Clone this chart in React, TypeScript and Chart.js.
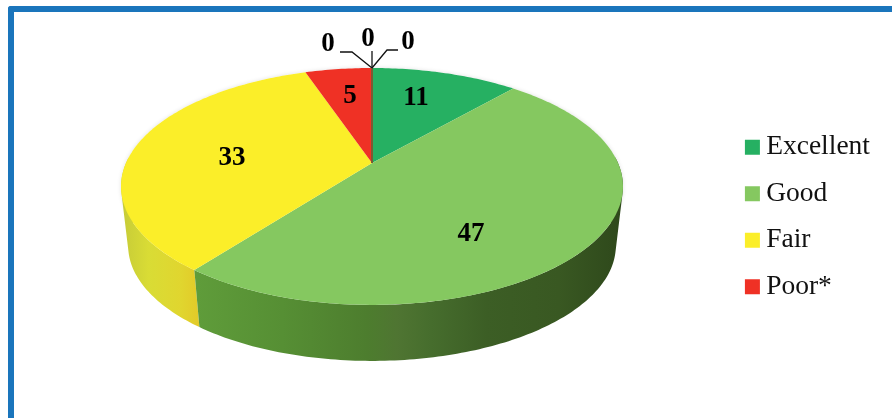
import React, { useEffect, useRef } from "react";
import { Chart, registerables } from "chart.js";

Chart.register(...registerables);

// ---- data ----
const categories = ["Excellent", "Good", "Fair", "Poor*", "Very poor", "Unsafe", "Not rated"];
const values = [11, 47, 33, 5, 0, 0, 0];
const sliceColors = ["#26b062", "#85c860", "#fbee29", "#ef3125", "#7d5a35", "#7d5a35", "#7d5a35"];

// ---- style: perspective of the disc and its extrusion ----
const topFace = { x: 372, y: 163, rx: 246, ry: 113.8, k: 0.198 };
const bottomFace = { x: 372, y: 223, rx: 239, ry: 110.6, k: 0.198 };
const wallStops: Record<number, [number, string][]> = {
  1: [[0, "#5f9c3a"], [0.2, "#568f34"], [0.4, "#4d7d2e"], [0.47, "#4f7532"], [0.55, "#466d2d"], [0.68, "#3c5e25"], [0.85, "#395822"], [1, "#2e481b"]],
  2: [[0, "#c6cb38"], [0.35, "#d9dc35"], [0.75, "#e0d62f"], [1, "#e3c928"]],
};
const wallSpan: Record<number, [number, number]> = { 1: [197, 623], 2: [121, 200] };
// label spots on the unit disc (u to the right, v to the far side)
const labelSpots: ([number, number] | null)[] = [[0.2025, 0.667], [0.359, -0.541], [-0.576, 0.0624], [-0.1016, 0.689], null, null, null];
// zero labels: leader bend, leader end and text position relative to the rim point
const zeroLeaders = [
  { bend: [-20, -16], end: [-32, -16], text: [-44, -26] },
  { bend: [0, -17], end: [0, -17], text: [-4, -31] },
  { bend: [15, -18], end: [26, -18], text: [36, -28] },
];
const labelFont = "bold 27px 'Liberation Serif'";
const textDrop = 2;

type Face = typeof topFace;
type Pt = [number, number];
const project = (f: Face, u: number, v: number): Pt => {
  const w = 1 + f.k * v;
  return [f.x + (f.rx * u) / w, f.y - (f.ry * v) / w];
};
const signedArea = (q: Pt[]) =>
  q.reduce((s, [x, y], i) => {
    const [nx, ny] = q[(i + 1) % q.length];
    return s + x * ny - nx * y;
  }, 0);

const pie3d = {
  id: "pie3d",
  beforeDatasetsDraw(chart: any) {
    const { ctx } = chart;
    const arcs = chart.getDatasetMeta(0).data;
    const rim = (f: Face, a: number) => project(f, Math.cos(a), -Math.sin(a));
    const sweep = (f: Face, a0: number, a1: number) => {
      const n = Math.max(2, Math.ceil(Math.abs(a1 - a0) * 60));
      const pts: Pt[] = [];
      for (let i = 0; i <= n; i++) pts.push(rim(f, a0 + ((a1 - a0) * i) / n));
      return pts;
    };
    ctx.save();
    // soft halo round the disc
    ctx.save();
    ctx.shadowColor = "rgba(0,0,0,0.12)";
    ctx.shadowBlur = 4;
    ctx.fillStyle = "#ffffff";
    ctx.beginPath();
    sweep(topFace, -Math.PI, Math.PI).forEach(([x, y], q) => (q ? ctx.lineTo(x, y) : ctx.moveTo(x, y)));
    ctx.closePath();
    ctx.fill();
    ctx.restore();
    // side walls: only the part that faces the viewer, as one path of same-wound strips
    [2, 1].forEach((i) => {
      const arc = arcs[i];
      const [lo, hi] = wallSpan[i];
      const g = ctx.createLinearGradient(lo, 0, hi, 0);
      wallStops[i].forEach(([s, c]) => g.addColorStop(s, c));
      const a0 = Math.max(arc.startAngle, -0.05);
      const a1 = Math.min(arc.endAngle, Math.PI + 0.05);
      const top = sweep(topFace, a0, a1);
      const bottom = sweep(bottomFace, a0, a1);
      ctx.fillStyle = g;
      ctx.beginPath();
      for (let j = 0; j < top.length - 1; j++) {
        const quad: Pt[] = [top[j], top[j + 1], bottom[j + 1], bottom[j]];
        if (signedArea(quad) < 0) quad.reverse();
        quad.forEach(([x, y], q) => (q ? ctx.lineTo(x, y) : ctx.moveTo(x, y)));
        ctx.closePath();
      }
      ctx.fill();
    });
    // top face
    arcs.forEach((arc: any) => {
      if (arc.endAngle - arc.startAngle < 1e-6) return;
      ctx.beginPath();
      ctx.moveTo(topFace.x, topFace.y);
      sweep(topFace, arc.startAngle, arc.endAngle).forEach(([x, y]) => ctx.lineTo(x, y));
      ctx.closePath();
      ctx.fillStyle = arc.options.backgroundColor;
      ctx.fill();
    });
    // zero slices appear as a hairline spoke, with leaders above the rim
    ctx.textAlign = "center";
    ctx.textBaseline = "middle";
    ctx.font = labelFont;
    let zero = 0;
    arcs.forEach((arc: any, i: number) => {
      const val = chart.data.datasets[0].data[i];
      if (val !== 0) return;
      const [rx, ry] = rim(topFace, arc.startAngle);
      ctx.strokeStyle = arc.options.backgroundColor;
      ctx.lineWidth = 1.5;
      ctx.beginPath();
      ctx.moveTo(topFace.x, topFace.y);
      ctx.lineTo(rx, ry);
      ctx.stroke();
      const l = zeroLeaders[zero++];
      ctx.strokeStyle = "#111111";
      ctx.lineWidth = 1.3;
      ctx.beginPath();
      ctx.moveTo(rx, ry);
      ctx.lineTo(rx + l.bend[0], ry + l.bend[1]);
      ctx.lineTo(rx + l.end[0], ry + l.end[1]);
      ctx.stroke();
      ctx.fillStyle = "#000000";
      ctx.fillText(String(val), rx + l.text[0], ry + l.text[1] + textDrop);
    });
    // value labels
    ctx.fillStyle = "#000000";
    labelSpots.forEach((s, i) => {
      if (!s) return;
      const [x, y] = project(topFace, s[0], s[1]);
      ctx.fillText(String(values[i]), x, y + textDrop);
    });
    ctx.restore();
    return false;
  },
};

export default function App() {
  const ref = useRef<HTMLCanvasElement>(null);
  useEffect(() => {
    const chart = new Chart(ref.current!, {
      type: "pie",
      data: {
        labels: categories,
        datasets: [{ data: values, backgroundColor: sliceColors, borderWidth: 0 }],
      },
      options: {
        animation: false,
        responsive: false,
        layout: { padding: { top: 16, right: 12, bottom: 0, left: 0 } },
        plugins: {
          tooltip: { enabled: false },
          legend: {
            position: "right",
            labels: {
              font: { family: "'Liberation Serif'", size: 27.5 },
              color: "#111111",
              usePointStyle: true,
              pointStyle: "rect",
              boxWidth: 0.01,
              boxHeight: 15,
              padding: 19,
              filter: (item: any, data: any) => data.datasets[0].data[item.index] > 0,
            },
          },
        },
      },
      plugins: [pie3d],
    } as any);
    return () => chart.destroy();
  }, []);
  return (
    <>
      <div
        style={{
          position: "fixed",
          left: 8,
          top: 6,
          right: 0,
          bottom: 0,
          borderLeft: "6px solid #1a75bc",
          borderTop: "6px solid #1a75bc",
          borderTopLeftRadius: 3,
        }}
      />
      <canvas ref={ref} width={892} height={418} style={{ position: "fixed", left: 0, top: 0 }} />
    </>
  );
}
